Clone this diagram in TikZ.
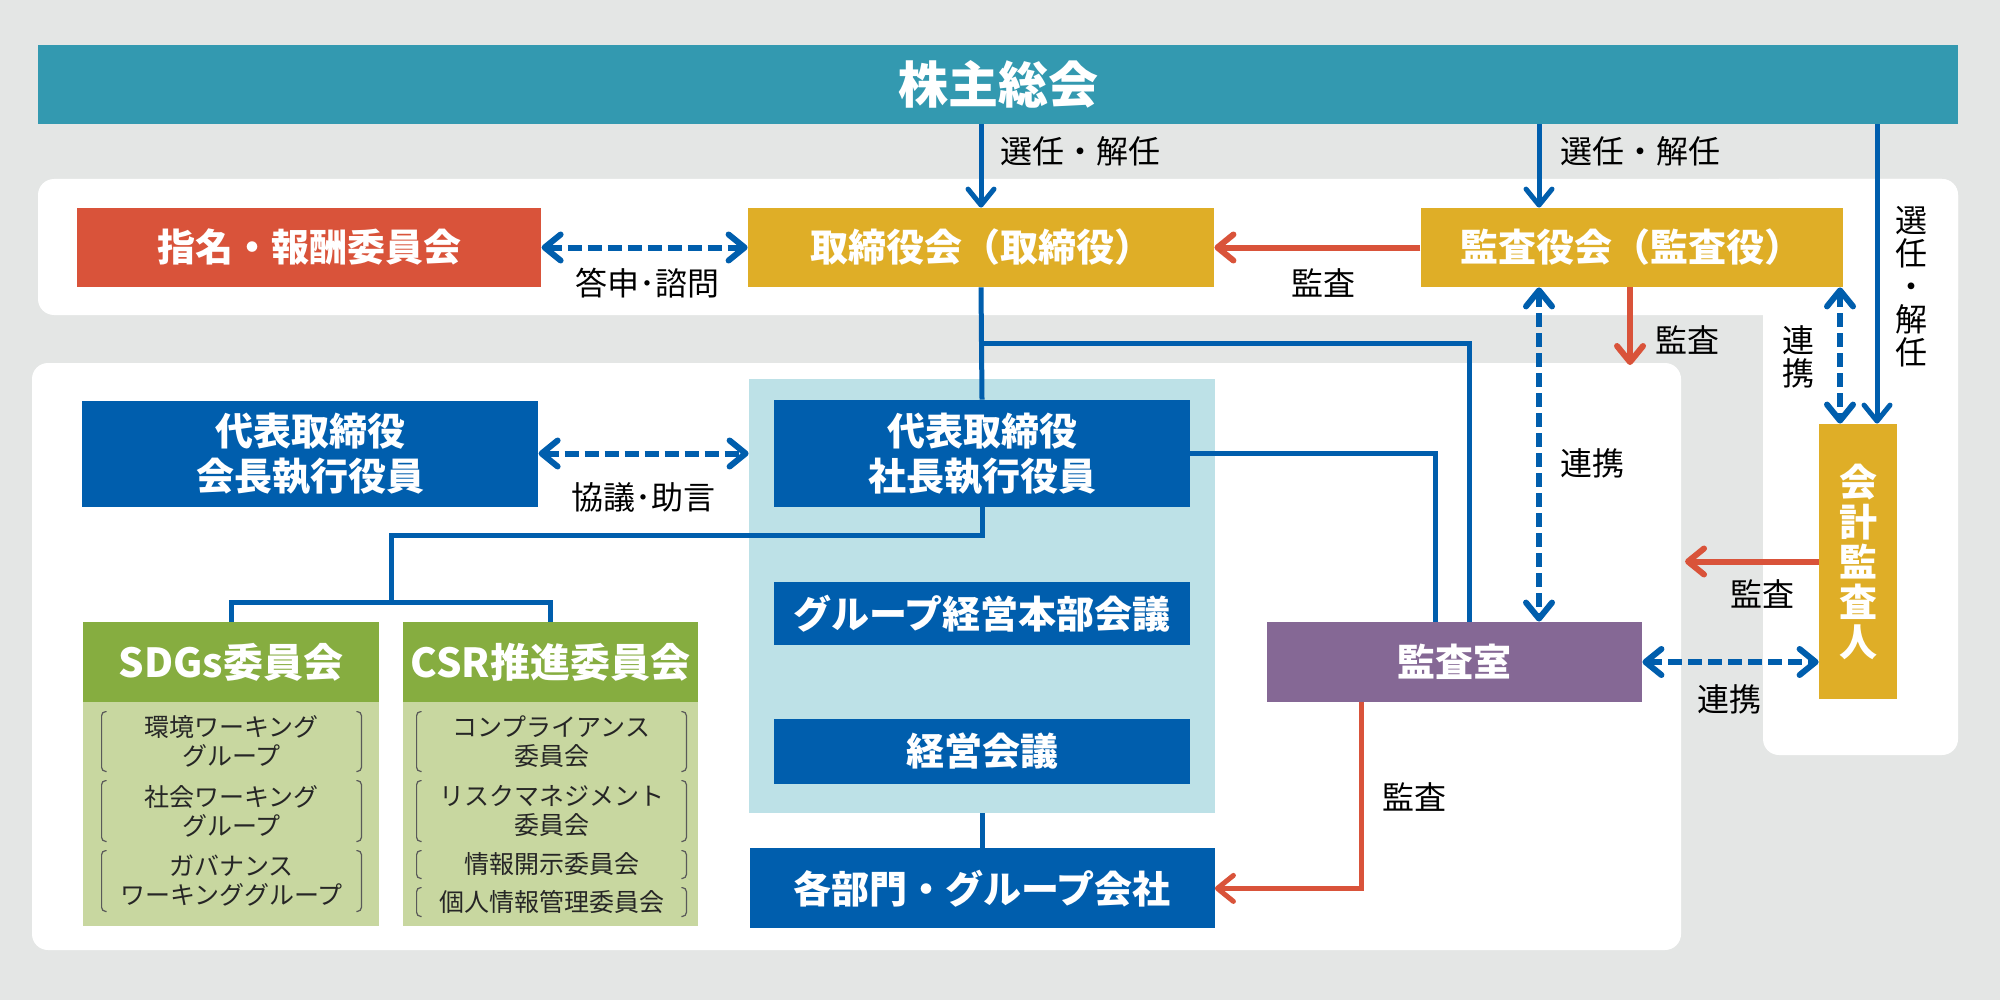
\documentclass[tikz,border=0pt]{standalone}
\usepackage{fontspec}
\setmainfont{Noto Sans CJK JP}
\usepackage{xcolor}
\usetikzlibrary{arrows.meta,positioning,calc}

\definecolor{bggray}{HTML}{E4E6E5}
\definecolor{orgteal}{HTML}{3399B0}
\definecolor{orgblue}{HTML}{005EAD}
\definecolor{orgred}{HTML}{D9533A}
\definecolor{orggold}{HTML}{DFAE27}
\definecolor{orgpurple}{HTML}{856895}
\definecolor{orggreen}{HTML}{86AD40}
\definecolor{orglgreen}{HTML}{C8D7A0}
\definecolor{orglblue}{HTML}{BDE1E7}

\tikzset{
  box/.style={fill=#1, text=white, font=\bfseries\fontsize{19}{22.5}\selectfont, align=center, inner sep=0pt},
  lbl/.style={font=\fontsize{16}{16.5}\selectfont, text=black, align=center, inner sep=0pt},
  item/.style={font=\fontsize{12.5}{14.5}\selectfont, text=black!85, align=center, inner sep=0pt},
  brk/.style={draw=black!65, line width=0.6pt, rounded corners=2pt},
  conn/.style={draw=orgblue, line width=2.5pt},
  arr/.style={conn, -{Straight Barb[length=8pt,width=13pt,round]}},
  darr/.style={conn, line width=3pt, dash pattern=on 7pt off 3pt,
    {Straight Barb[length=8pt,width=13pt,round]}-{Straight Barb[length=8pt,width=13pt,round]}},
  redarr/.style={draw=orgred, line width=3pt, -{Straight Barb[length=8pt,width=13pt,round]}},
}

\begin{document}
\begin{tikzpicture}[x=0.5pt,y=-0.5pt]
        % background and panels
        \fill[bggray] (0,0) rectangle (2000,1000);
        \fill[white, rounded corners=8pt] (38,179) rectangle (1958,315);
        \fill[white, rounded corners=8pt] (1763,179) rectangle (1958,755);
        \fill[white, rounded corners=8pt] (32,363) rectangle (1681,950);
        \node[fill=orglblue, minimum width=233pt, minimum height=217pt, inner sep=0pt] (bluepanel) at (982,596) {};

        \node[box=orgteal, minimum width=960pt, minimum height=39.5pt, font=\bfseries\fontsize{25}{28}\selectfont] (soukai) at (998,84.5) {株主総会};

        \node[box=orggold, minimum width=233pt, minimum height=39.5pt] (torishimari) at (981,247.5) {取締役会（取締役）};
        \node[box=orgred, minimum width=232pt, minimum height=39.5pt, left = 103pt of torishimari] (shimei) {指名・報酬委員会};
        \node[box=orggold, minimum width=211pt, minimum height=39.5pt, right = 103pt of torishimari] (kansayaku) {監査役会（監査役）};
        \node[box=orggold, minimum width=39pt, minimum height=137.5pt, font=\bfseries\fontsize{19}{20}\selectfont] (kaikei) at (1858,561.5) {会\\計\\監\\査\\人};

        \node[box=orgblue, minimum width=208pt, minimum height=53.5pt] (shacho) at (982,453.5) {代表取締役\\社長執行役員};
        \node[box=orgblue, minimum width=228pt, minimum height=53pt, left = 117.5pt of shacho] (kaicho) {代表取締役\\会長執行役員};
        \node[box=orgblue, minimum width=208pt, minimum height=31.5pt, below = 37pt of shacho] (group) {グループ経営本部会議};
        \node[box=orgblue, minimum width=208pt, minimum height=32.5pt, below = 36.5pt of group] (keiei) {経営会議};
        \node[box=orgblue, minimum width=232.5pt, minimum height=40pt, below = 32pt of keiei] (kakubu) {各部門・グループ会社};
        \node[box=orgpurple, minimum width=187.5pt, minimum height=40pt] (kansashitsu) at (1454.5,662) {監査室};

        % committees
        \fill[orglgreen] (83,702) rectangle (379,926);
        \fill[orglgreen] (403,702) rectangle (698,926);
        \node[box=orggreen, minimum width=148pt, minimum height=40pt, font=\bfseries\fontsize{20}{22}\selectfont] (sdgs) at (231,662) {SDGs委員会};
        \node[box=orggreen, minimum width=147.5pt, minimum height=40pt, font=\bfseries\fontsize{20}{22}\selectfont] (csr) at (550.5,662) {CSR推進委員会};

        \node[item, minimum width=129.5pt, minimum height=29.5pt] (sdg1) at (231.5,741.5) {環境ワーキング\\グループ};
        \node[item, minimum width=129.5pt, minimum height=30pt] (sdg2) at (231.5,811) {社会ワーキング\\グループ};
        \node[item, minimum width=129.5pt, minimum height=30pt] (sdg3) at (231.5,881) {ガバナンス\\ワーキンググループ};
        \node[item, minimum width=134.5pt, minimum height=29.5pt] (csr1) at (551.5,741.5) {コンプライアンス\\委員会};
        \node[item, minimum width=134.5pt, minimum height=30pt] (csr2) at (551.5,811) {リスクマネジメント\\委員会};
        \node[item, minimum width=134.5pt, minimum height=13.5pt] (csr3) at (551.5,864.5) {情報開示委員会};
        \node[item, minimum width=134.5pt, minimum height=14pt] (csr4) at (551.5,902) {個人情報管理委員会};
        \foreach \n in {sdg1,sdg2,sdg3,csr1,csr2,csr3,csr4} {
          \draw[brk] ([xshift=2.5pt]\n.north west) -- (\n.north west) -- (\n.south west) -- ([xshift=2.5pt]\n.south west);
          \draw[brk] ([xshift=-2.5pt]\n.north east) -- (\n.north east) -- (\n.south east) -- ([xshift=-2.5pt]\n.south east);
        }

        % channels
        \coordinate (kx) at (1539,0);
        \coordinate (ax) at (1877,0);
        \coordinate (rx) at (1840,0);
        \coordinate (kansaend) at (1630,365);
        \coordinate (jtop) at (981,343);
        \coordinate (kline1) at (1469,0);
        \coordinate (kline2) at (1435,0);
        \coordinate (jmid) at (391,535);
        \coordinate (jlow) at (391,602);
        \coordinate (rline) at (1361,0);
        \coordinate (kaikeiend) at (1685,0);

        % shareholders
        \draw[arr] (soukai.south -| torishimari.north) -- (torishimari.north);
        \draw[arr] (soukai.south -| kx) -- (kansayaku.north -| kx);
        \draw[arr] (soukai.south -| ax) -- (kaikei.north -| ax);
        \node[lbl, anchor=west] (sen1) at (1000,151) {選任・解任};
        \node[lbl, anchor=west] (sen2) at (1560,151) {選任・解任};
        \node[lbl] (sen3) at (1911,287) {選\\任\\・\\解\\任};

        % board
        \draw[darr] (shimei) -- (torishimari);
        \node[lbl] (toushin) at (647,283) {答申･諮問};
        \draw[redarr] (kansayaku) -- (torishimari);
        \node[lbl] (kansa1) at (1323,283) {監査};
        \draw[redarr] (kansayaku.south -| kansaend) -- (kansaend);
        \node[lbl] (kansa2) at (1687,340) {監査};
        \draw[darr] (kansayaku.south -| rx) -- (kaikei.north -| rx);
        \node[lbl] (renkei1) at (1798,357) {連\\携};
        \draw[darr] (kansayaku.south -| kx) -- (kansashitsu.north -| kx);
        \node[lbl] (renkei2) at (1592,463) {連携};

        % execution
        \draw[conn] (torishimari.south) -- (shacho.north);
        \draw[conn] (jtop) -| (kansashitsu.north -| kline1);
        \draw[conn] (shacho.east) -| (kansashitsu.north -| kline2);
        \draw[darr] (kaicho.east) -- (kaicho.east -| bluepanel.west);
        \node[lbl] (kyougi) at (643,497) {協議･助言};
        \draw[conn] (shacho.south) |- (jmid) -- (jlow);
        \draw[conn] (sdgs.north) |- (jlow) -| (csr.north);
        \draw[conn] (bluepanel.south -| kakubu.north) -- (kakubu.north);

        % audit
        \draw[redarr, line width=2.5pt] (kansashitsu.south -| rline) |- (kakubu.east);
        \node[lbl] (kansa3) at (1414,797) {監査};
        \draw[redarr] (kaikei.west) -- (kaikei.west -| kaikeiend);
        \node[lbl] (kansa4) at (1762,594) {監査};
        \draw[darr] (kansashitsu.east) -- (kansashitsu.east -| kaikei.west);
        \node[lbl] (renkei3) at (1729,699) {連携};
\end{tikzpicture}
\end{document}
